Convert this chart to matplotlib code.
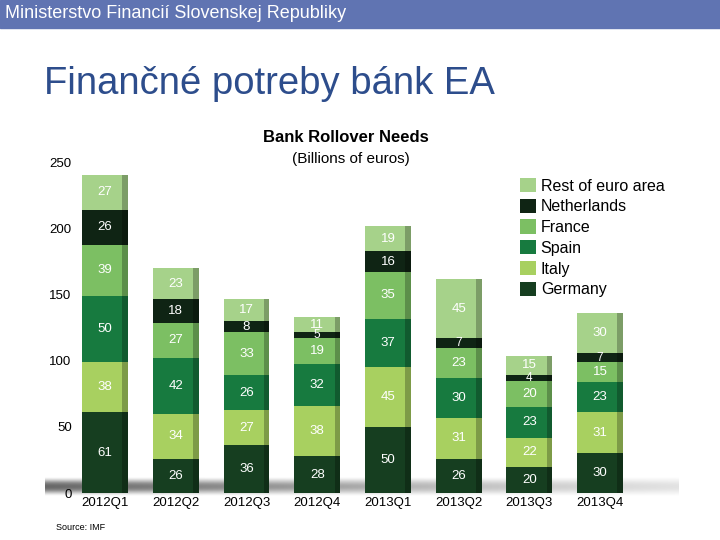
import numpy as np
import matplotlib.pyplot as plt
from matplotlib.patches import Rectangle

quarters = ["2012Q1", "2012Q2", "2012Q3", "2012Q4", "2013Q1", "2013Q2", "2013Q3", "2013Q4"]
germany = [61, 26, 36, 28, 50, 26, 20, 30]
italy = [38, 34, 27, 38, 45, 31, 22, 31]
spain = [50, 42, 26, 32, 37, 30, 23, 23]
france = [39, 27, 33, 19, 35, 23, 20, 15]
netherlands = [26, 18, 8, 5, 16, 7, 4, 7]
rest = [27, 23, 17, 11, 19, 45, 15, 30]

series = [
    ("Germany", germany, "#163e20"),
    ("Italy", italy, "#a8d060"),
    ("Spain", spain, "#177a3f"),
    ("France", france, "#7cbf63"),
    ("Netherlands", netherlands, "#0f2414"),
    ("Rest of euro area", rest, "#a6d28a"),
]

plt.rcParams['font.family'] = ['Liberation Sans', 'DejaVu Sans']

fig = plt.figure(figsize=(7.2, 5.4), dpi=100)

# header band
fig.patches.append(Rectangle((0, 1 - 28 / 540), 1, 28 / 540, transform=fig.transFigure,
                             color="#6074b2", zorder=0))
fig.text(5 / 720, 1 - 14 / 540, "Ministerstvo Financií Slovenskej Republiky", color="white",
         fontsize=13, va="center", ha="left")
fig.text(44 / 720, 1 - 84 / 540, "Finančné potreby bánk EA", color="#2d4d8c",
         fontsize=27.5, va="center", ha="left")

ax = fig.add_axes([80 / 720, 47 / 540, 610 / 720, 333 / 540])
x = np.arange(len(quarters))
width = 0.65

# soft floor shadow
grad = np.linspace(0, 1, 50).reshape(-1, 1) * np.ones((1, 200))
fade = np.linspace(1, 0.3, 200).reshape(1, -1)
shadow = np.sin(grad * np.pi) * fade
ax.imshow(shadow, extent=(-0.85, 8.1, -2, 12), aspect="auto", cmap="Greys",
          vmin=0, vmax=1.5, zorder=0, clip_on=False, interpolation="bilinear")

bottom = np.zeros(len(quarters))
handles = []
for name, vals, col in series:
    vals = np.array(vals)
    b = ax.bar(x, vals, width, bottom=bottom, color=col, label=name, zorder=2)
    handles.append(b)
    for xi, v, bt in zip(x, vals, bottom):
        fs = 9.5 if v >= 8 else 8.5
        ax.text(xi, bt + v / 2, str(v), ha="center", va="center", color="white",
                fontsize=fs, zorder=4)
    bottom = bottom + vals

# darker right side for a bit of depth
ax.bar(x + width / 2 - 0.04, bottom, 0.08, color="black", alpha=0.25, zorder=3)

ax.set_xlim(-0.354, 8.27)
ax.set_ylim(0, 252)
ax.set_yticks([0, 50, 100, 150, 200, 250])
ax.set_xticks(x)
ax.set_xticklabels(quarters)
ax.tick_params(axis="both", length=0, labelsize=9.5, pad=3)
ax.tick_params(axis="y", pad=6)
for s in ax.spines.values():
    s.set_visible(False)
ax.patch.set_alpha(0)

fig.text(346 / 720, 1 - 138 / 540, "Bank Rollover Needs", fontsize=12, fontweight="bold",
         ha="center", va="center")
fig.text(351 / 720, 1 - 159 / 540, "(Billions of euros)", fontsize=11, ha="center", va="center")

fig.legend(handles[::-1], [s[0] for s in series][::-1], loc="upper left",
           bbox_to_anchor=(520 / 720, 1 - 178 / 540), frameon=False, fontsize=11.5,
           handlelength=1.0, handleheight=1.0, handletextpad=0.3, labelspacing=0.32,
           borderaxespad=0, borderpad=0)

fig.text(56 / 720, 1 - 527 / 540, "Source: IMF", fontsize=6.5, ha="left", va="center")

fig.savefig("out.png", dpi=100)
